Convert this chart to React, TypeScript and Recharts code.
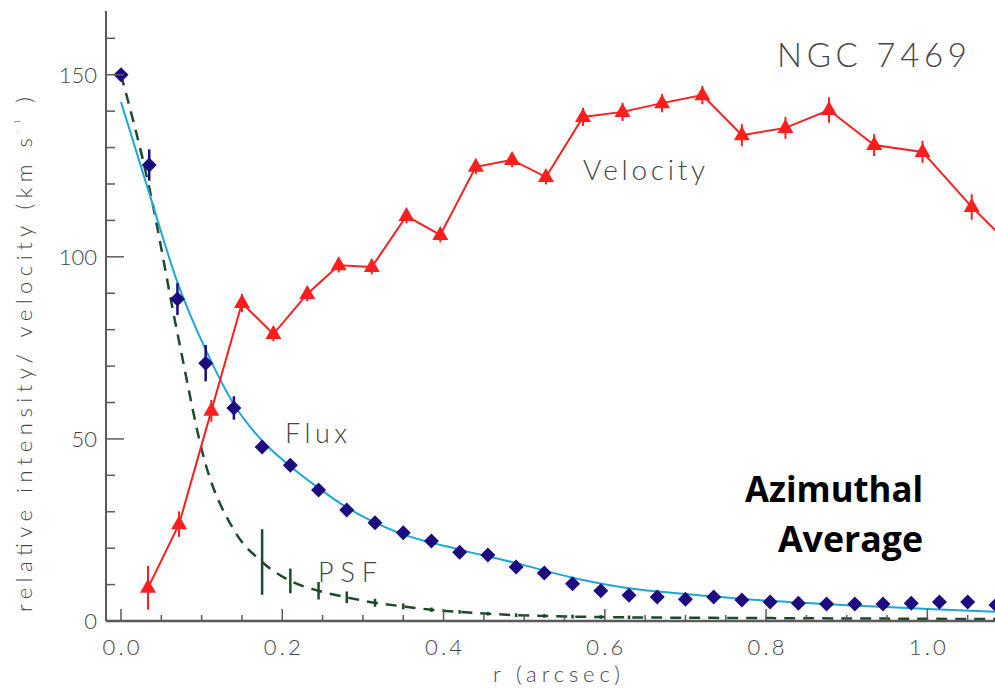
import React from 'react';
import { ComposedChart, Line, XAxis, YAxis, ErrorBar } from 'recharts';

// ---- data ----
const fluxR = [0, 0.035, 0.07, 0.105, 0.14, 0.175, 0.21, 0.245, 0.28, 0.315, 0.35, 0.385, 0.42, 0.455, 0.49, 0.525, 0.56, 0.595, 0.63, 0.665, 0.7, 0.735, 0.77, 0.805, 0.84, 0.875, 0.91, 0.945, 0.98, 1.015, 1.05, 1.085];
const fluxVal = [150, 125.2, 88.4, 70.8, 58.5, 47.8, 42.8, 36.0, 30.5, 27.0, 24.2, 22.0, 18.9, 18.1, 14.8, 13.2, 10.2, 8.3, 7.1, 6.6, 6.0, 6.6, 5.8, 5.2, 4.9, 4.7, 4.7, 4.7, 4.9, 5.2, 5.2, 4.4];
const fluxErr = [0, 4.3, 4.4, 5, 3.2, 0, 0, 0, 0, 0, 0, 0, 0, 0, 0, 0, 0, 0, 0, 0, 0, 0, 0, 0, 0, 0, 0, 0, 0, 0, 0, 0];

const fitR = [0, 0.035, 0.07, 0.105, 0.14, 0.175, 0.21, 0.245, 0.28, 0.315, 0.35, 0.42, 0.49, 0.56, 0.63, 0.7, 0.8, 0.9, 1.0, 1.1];
const fitVal = [142.5, 117.5, 93, 74.5, 59.5, 49.5, 42.5, 36.5, 31.2, 27, 23.8, 19.6, 15.9, 11.9, 9.0, 7.4, 5.6, 4.3, 3.3, 2.4];

const psfR = [0, 0.035, 0.07, 0.105, 0.14, 0.175, 0.21, 0.245, 0.28, 0.315, 0.35, 0.385, 0.42, 0.455, 0.49, 0.525, 0.56, 0.595, 0.63, 0.7, 0.8, 0.9, 1.0, 1.1];
const psfVal = [150, 119, 79, 43, 25, 16.2, 11, 8.3, 6.5, 5.0, 4.0, 3.1, 2.5, 2.0, 1.6, 1.4, 1.2, 1.1, 1.0, 0.9, 0.8, 0.7, 0.6, 0.5];
const psfErr = [0, 0, 0, 0, 0, 9, 3.4, 2.4, 1.6, 1.1, 0.8, 0.6, 0.5, 0.5, 0.5, 0.5, 0.5, 0.5, 0.5, 0, 0, 0, 0, 0];

const velR = [0.0335, 0.072, 0.112, 0.15, 0.189, 0.231, 0.27, 0.311, 0.354, 0.396, 0.44, 0.485, 0.527, 0.573, 0.622, 0.671, 0.721, 0.77, 0.824, 0.878, 0.934, 0.994, 1.055, 1.12];
const velVal = [9.1, 26.6, 57.7, 87.3, 78.8, 89.8, 97.7, 97.2, 111.2, 106.0, 124.7, 126.6, 121.9, 138.4, 139.8, 142.2, 144.4, 133.4, 135.4, 140.3, 130.7, 128.8, 113.7, 99.5];
const velErr = [6, 3.5, 3, 2.5, 2, 2, 2, 2, 2, 2, 2, 2, 2, 2.5, 2.5, 2.5, 2.5, 3, 3, 3.5, 3, 3, 3.5, 3];

const xTicks = [0, 0.05, 0.1, 0.15, 0.2, 0.25, 0.3, 0.35, 0.4, 0.45, 0.5, 0.55, 0.6, 0.65, 0.7, 0.75, 0.8, 0.85, 0.9, 0.95, 1.0, 1.05, 1.1];
const yTicks = [0, 10, 20, 30, 40, 50, 60, 70, 80, 90, 100, 110, 120, 130, 140, 150, 160];

const fluxData = fluxR.map((r, i) => ({ r, v: fluxVal[i], e: fluxErr[i] }));
const fitData = fitR.map((r, i) => ({ r, v: fitVal[i] }));
const psfData = psfR.map((r, i) => ({ r, v: psfVal[i], e: psfErr[i] }));
const velData = velR.map((r, i) => ({ r, v: velVal[i], e: velErr[i] }));

// ---- styles ----
const AXIS = '#5a5a5a';
const TXT = '#454545';
const FONT = "Lato, 'DejaVu Sans', sans-serif";
const NAVY = '#1c0c80';
const RED = '#ff1e1e';
const CYAN = '#1da6d6';
const GREEN = '#1e4a2c';

const isMajorX = (v: number) => Math.abs(v * 5 - Math.round(v * 5)) < 1e-6;
const isMajorY = (v: number) => v % 50 === 0;

const BottomTick = (p: any) => {
  const { x, y, payload } = p;
  const v = payload.value;
  const major = isMajorX(v);
  return (
    <g>
      <line x1={x} x2={x} y1={y} y2={y - (major ? 12 : 6)} stroke={AXIS} strokeWidth={1.5} />
      {major && (
        <text x={x} y={y + 34} textAnchor="middle" fontFamily={FONT} fontWeight={300} fontSize={22} fill={TXT} textLength={37} lengthAdjust="spacing">
          {v.toFixed(1)}
        </text>
      )}
    </g>
  );
};
const TopTick = (p: any) => {
  const { x, y, payload } = p;
  const major = isMajorX(payload.value);
  return <line x1={x} x2={x} y1={y} y2={y + (major ? 12 : 6)} stroke={AXIS} strokeWidth={1.5} />;
};
const LeftTick = (p: any) => {
  const { x, y, payload } = p;
  const v = payload.value;
  const major = isMajorY(v);
  return (
    <g>
      <line x1={x} x2={x + (major ? 18 : 9)} y1={y} y2={y} stroke={AXIS} strokeWidth={1.5} />
      {major && (
        <text x={x - 9} y={y + 8} textAnchor="end" fontFamily={FONT} fontWeight={300} fontSize={22} fill={TXT}>
          {String(v)}
        </text>
      )}
    </g>
  );
};
const RightTick = (p: any) => {
  const { x, y, payload } = p;
  const major = isMajorY(payload.value);
  return <line x1={x} x2={x - (major ? 18 : 9)} y1={y} y2={y} stroke={AXIS} strokeWidth={1.5} />;
};

const Diamond = (p: any) => {
  const { cx, cy, index } = p;
  if (cx == null || cy == null) return <g key={`fd${index}`} />;
  const s = 7.5;
  return <path key={`fd${index}`} d={`M${cx},${cy - s}L${cx + s},${cy}L${cx},${cy + s}L${cx - s},${cy}Z`} fill={NAVY} />;
};
const Triangle = (p: any) => {
  const { cx, cy, index } = p;
  if (cx == null || cy == null) return <g key={`vt${index}`} />;
  return <path key={`vt${index}`} d={`M${cx},${cy - 9}L${cx + 8},${cy + 5}L${cx - 8},${cy + 5}Z`} fill={RED} />;
};

const XDOM: [number, number] = [-0.0186, 1.1];
const YDOM: [number, number] = [0, 167.5];

export default function App() {
  return (
    <div style={{ position: 'absolute', left: 0, top: 0, width: 995, height: 688, overflow: 'hidden', background: '#fff' }}>
      <ComposedChart width={1012} height={688} margin={{ top: 11, right: 4, bottom: 0, left: 0 }}>
        <XAxis xAxisId="b" type="number" dataKey="r" domain={XDOM} allowDataOverflow ticks={xTicks} interval={0}
          height={67} tickSize={0} tickMargin={0} tickLine={false} tick={BottomTick}
          axisLine={{ stroke: AXIS, strokeWidth: 2.5 }} />
        <XAxis xAxisId="t" orientation="top" type="number" dataKey="r" domain={XDOM} allowDataOverflow ticks={xTicks} interval={0}
          height={0} tickSize={0} tickMargin={0} tickLine={false} tick={TopTick}
          axisLine={{ stroke: AXIS, strokeWidth: 2 }} />
        <YAxis yAxisId="l" type="number" domain={YDOM} allowDataOverflow ticks={yTicks} interval={0}
          width={106} tickSize={0} tickMargin={0} tickLine={false} tick={LeftTick}
          axisLine={{ stroke: AXIS, strokeWidth: 2 }} />
        <YAxis yAxisId="r" orientation="right" type="number" domain={YDOM} allowDataOverflow ticks={yTicks} interval={0}
          width={0} tickSize={0} tickMargin={0} tickLine={false} tick={RightTick}
          axisLine={{ stroke: AXIS, strokeWidth: 2 }} />

        <Line xAxisId="b" yAxisId="l" data={psfData} dataKey="v" type="monotone" stroke={GREEN} strokeWidth={2.5}
          strokeDasharray="11 8" dot={false} activeDot={false} isAnimationActive={false}>
          <ErrorBar dataKey="e" direction="y" width={0} stroke={GREEN} strokeWidth={2.5} />
        </Line>
        <Line xAxisId="b" yAxisId="l" data={fitData} dataKey="v" type="monotone" stroke={CYAN} strokeWidth={2}
          dot={false} activeDot={false} isAnimationActive={false} />
        <Line xAxisId="b" yAxisId="l" data={fluxData} dataKey="v" stroke="none" dot={Diamond} activeDot={false} isAnimationActive={false}>
          <ErrorBar dataKey="e" direction="y" width={0} stroke={NAVY} strokeWidth={2.5} />
        </Line>
        <Line xAxisId="b" yAxisId="l" data={velData} dataKey="v" type="linear" stroke={RED} strokeWidth={2}
          dot={Triangle} activeDot={false} isAnimationActive={false}>
          <ErrorBar dataKey="e" direction="y" width={0} stroke={RED} strokeWidth={2} />
        </Line>
      </ComposedChart>

      <svg width={995} height={688} style={{ position: 'absolute', left: 0, top: 0, pointerEvents: 'none' }}>
        <g fontFamily={FONT} fontWeight={300} fill={TXT}>
          <text x={777} y={67} fontSize={33} textLength={190} lengthAdjust="spacing">NGC 7469</text>
          <text x={583} y={180} fontSize={28} textLength={122} lengthAdjust="spacing">Velocity</text>
          <text x={285} y={443} fontSize={27} textLength={62} lengthAdjust="spacing">Flux</text>
          <text x={318} y={582} fontSize={27} textLength={59} lengthAdjust="spacing">PSF</text>
          <text x={493} y={682} fontSize={22} textLength={127} lengthAdjust="spacing">r (arcsec)</text>
          <text x={32} y={612} fontSize={22} transform="rotate(-90, 32, 612)" textLength={515} lengthAdjust="spacing">
            relative intensity/ velocity (km s<tspan fontSize={8} dy={-12}>-1</tspan><tspan dy={12}> )</tspan>
          </text>
        </g>
        <g fontFamily="'Open Sans', 'Noto Sans', sans-serif" fontWeight={700} fill="#000">
          <text x={745} y={502} fontSize={36} textLength={178} lengthAdjust="spacingAndGlyphs">Azimuthal</text>
          <text x={778} y={552} fontSize={36} textLength={145} lengthAdjust="spacingAndGlyphs">Average</text>
        </g>
      </svg>
    </div>
  );
}
